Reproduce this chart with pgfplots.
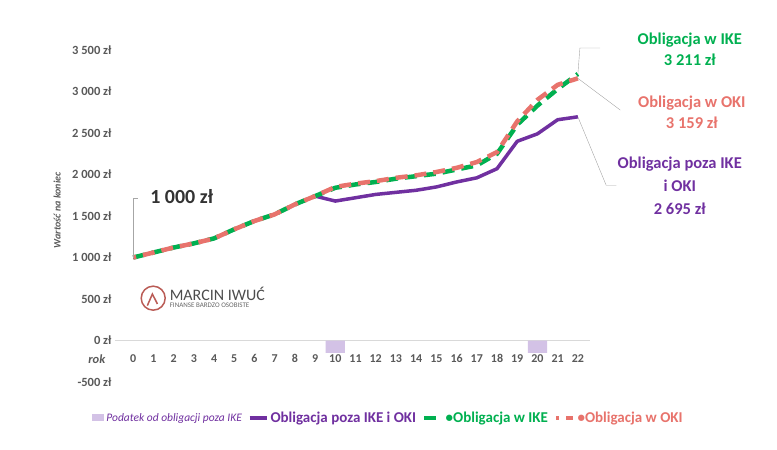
\documentclass[border=0pt]{standalone}
\usepackage{pgfplots}
\pgfplotsset{compat=1.18}
\usepackage{fontspec}
\setmainfont{Carlito}
\definecolor{cpur}{HTML}{7030A0}
\definecolor{cgrn}{HTML}{00B050}
\definecolor{cred}{HTML}{E8736C}
\definecolor{cbar}{HTML}{D3C2E6}
\definecolor{cgry}{HTML}{595959}
\begin{document}
\begin{tikzpicture}[x=1pt,y=1pt]
\path[use as bounding box] (-115,-68) rectangle (662,382);
\begin{axis}[at={(0,0)},anchor=south west,scale only axis,width=475pt,height=332pt,
 xmin=-0.9,xmax=22.6,ymin=-500,ymax=3500,clip=false,
 axis line style={draw=none},major tick length=0pt,
 /pgf/number format/assume math mode=true,
 xtick={0,...,22},ytick={-500,0,500,1000,1500,2000,2500,3000,3500},
 yticklabels={-500 zł,0 zł,500 zł,1 000 zł,1 500 zł,2 000 zł,2 500 zł,3 000 zł,3 500 zł},
 yticklabel style={font=\fontsize{12.5}{12}\selectfont\bfseries,text=cgry},
 xticklabel style={font=\fontsize{12}{12}\selectfont\bfseries,text=cgry,yshift=31pt},
 legend columns=4,
 legend style={at={(0.575,-0.108)},anchor=center,draw=none,font=\fontsize{15}{15}\selectfont\bfseries,
   /tikz/every even column/.append style={column sep=4pt}},
 legend cell align=left]
\draw[color=black!15,line width=1pt] (axis cs:-0.9,0) -- (axis cs:22.6,0);
\addplot[ybar,bar width=0.95,fill=cbar,draw=none,area legend,legend image code/.code={\fill[cbar] (0cm,-0.12cm) rectangle (0.45cm,0.12cm);}] coordinates {(10,-150) (20,-150)};
\addlegendentry{\textcolor{cpur}{\fontsize{11.5}{11}\selectfont\mdseries\itshape Podatek od obligacji poza IKE}}
\addplot[cpur,line width=3.5pt,line join=round] coordinates {(0,1000)(1,1060)(2,1120)(3,1170)(4,1230)(5,1340)(6,1440)(7,1520)(8,1640)(9,1740)(10,1680)(11,1720)(12,1760)(13,1785)(14,1810)(15,1850)(16,1910)(17,1960)(18,2070)(19,2400)(20,2490)(21,2660)(22,2695)};
\addlegendentry{\textcolor{cpur}{Obligacja poza IKE i OKI}}
\addplot[cgrn,line width=4.5pt,dash pattern=on 12pt off 7pt] coordinates {(0,1000)(1,1060)(2,1120)(3,1170)(4,1230)(5,1340)(6,1440)(7,1520)(8,1640)(9,1740)(10,1840)(11,1880)(12,1910)(13,1950)(14,1980)(15,2010)(16,2060)(17,2110)(18,2250)(19,2600)(20,2830)(21,3030)(22,3211)};
\addlegendentry{\textcolor{cgrn}{•Obligacja w IKE}}
\addplot[cred,line width=4.5pt,dash pattern=on 12pt off 7pt,dash phase=9pt] coordinates {(0,1000)(1,1060)(2,1120)(3,1170)(4,1230)(5,1340)(6,1440)(7,1520)(8,1640)(9,1740)(10,1850)(11,1890)(12,1920)(13,1960)(14,1990)(15,2030)(16,2080)(17,2150)(18,2270)(19,2640)(20,2900)(21,3080)(22,3159)};
\addlegendentry{\textcolor{cred}{•Obligacja w OKI}}
% annotations
\draw[gray!70] (axis cs:0,1000) -- (axis cs:0,1720) -- (axis cs:0.25,1720);
\node[font=\fontsize{20}{20}\selectfont\bfseries,text=black!80] at (axis cs:2.4,1740) {1 000 zł};
\draw[gray!70] (axis cs:22,3211) -- (axis cs:22.1,3524) -- (axis cs:23.1,3524);
\draw[gray!70] (axis cs:22,3159) -- (axis cs:24.1,2776);
\draw[gray!70] (axis cs:22,2695) -- (axis cs:23.4,1871) -- (axis cs:23.9,1871);
\node[font=\fontsize{16.5}{16}\selectfont\bfseries,text=cgrn,align=center] at (axis cs:27.54,3512) {Obligacja w IKE\\[5pt]3 211 zł};
\node[font=\fontsize{16.5}{16}\selectfont\bfseries,text=cred,align=center] at (axis cs:27.64,2752) {Obligacja w OKI\\[5pt]3 159 zł};
\node[font=\fontsize{16.5}{16}\selectfont\bfseries,text=cpur,align=center] at (axis cs:27.04,1859) {Obligacja poza IKE\\[7pt]i OKI\\[7pt]2 695 zł};
\node[rotate=90,font=\fontsize{10}{10}\selectfont\itshape\bfseries,text=cgry] at (axis cs:-3.76,1569) {Wartość na koniec};
\node[font=\fontsize{12.5}{12}\selectfont\itshape\bfseries,text=cgry] at (axis cs:-1.8,-229) {rok};
% logo
\draw[cred!80!black,line width=1.5pt] (axis cs:0.99,510) circle (12pt);
\draw[cred!80!black,line width=1.5pt] (axis cs:0.7,420) -- (axis cs:0.95,560) -- (axis cs:1.2,440);
\node[anchor=west,font=\fontsize{16}{16}\selectfont,text=black!70,inner sep=0] at (axis cs:1.8,567) {MARCIN IWUĆ};
\node[anchor=west,font=\fontsize{7}{7}\selectfont,text=black!60,inner sep=0] at (axis cs:1.8,420) {FINANSE BARDZO OSOBISTE};
\end{axis}
\end{tikzpicture}
\end{document}
